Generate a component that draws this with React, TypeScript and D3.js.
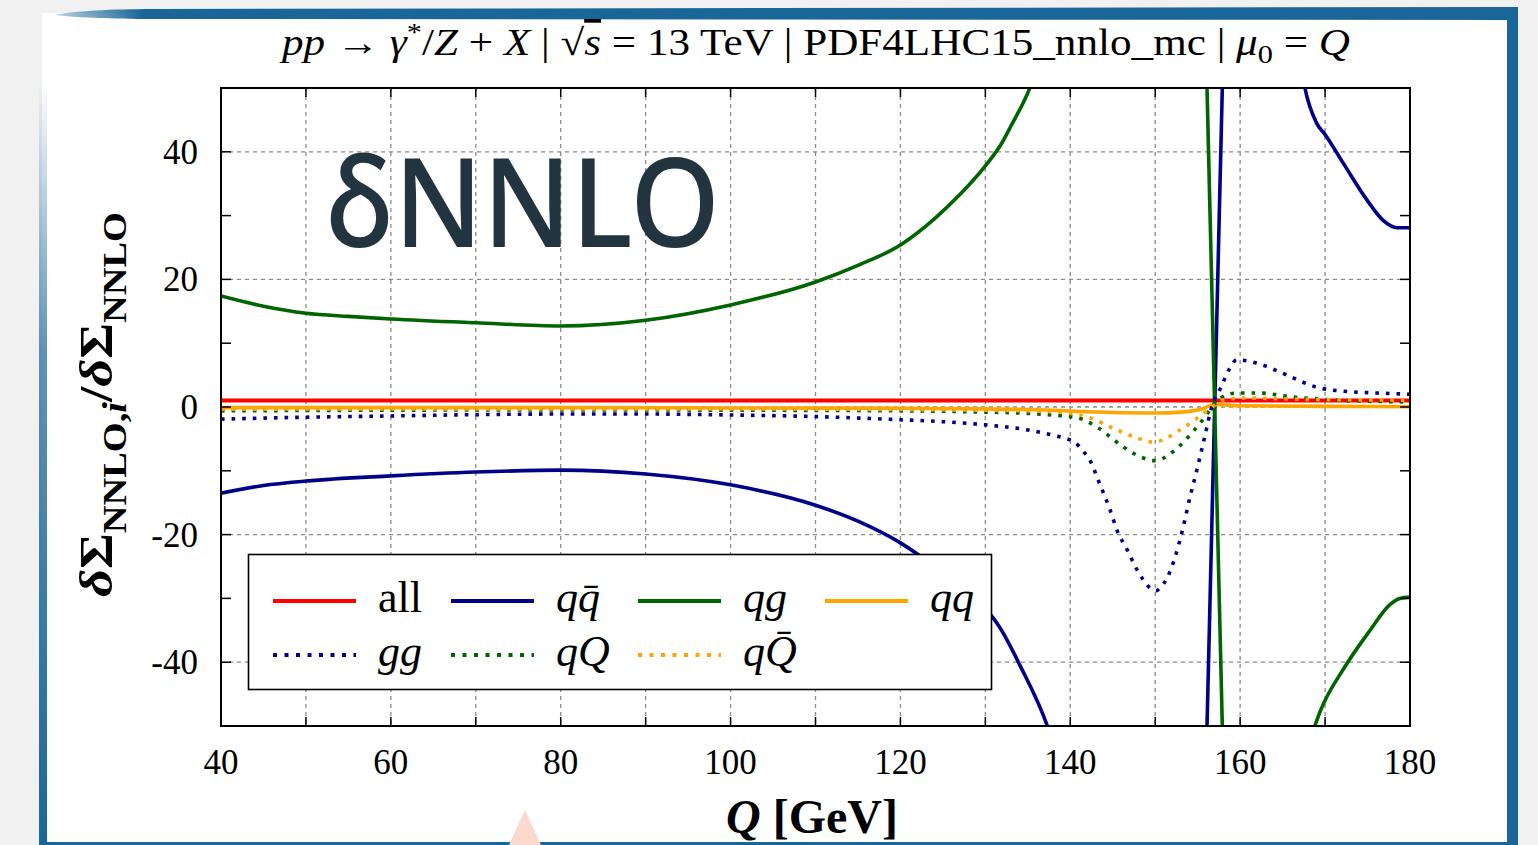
import React from "react";
import * as d3 from "d3";

// Q [GeV] vs ratio dSigma_NNLO,i / dSigma_NNLO
const xTicks = [40, 60, 80, 100, 120, 140, 160, 180];
const yTicks = [-40, -20, 0, 20, 40];

const allData: [number, number][] = [[40, 1], [180, 1]];

const qqbarData: [number, number][] = [
  [40, -13.5], [45, -12.3], [50, -11.6], [60, -10.8], [70, -10.2], [80, -9.9],
  [90, -10.5], [100, -12.2], [110, -15.4], [115, -17.9], [120, -21.3], [125, -26],
  [130, -31.5], [132, -35.2], [134, -40.3], [137.3, -50], [140, -62], [145, -85],
  [150, -105], [153, -115], [155, -110.5], [156, -55.5], [158, 55.5], [159, 111],
  [162, 95], [165, 68], [167, 55], [167.6, 50.2], [169, 44.5], [170, 42.7],
  [172.1, 38.3], [174.9, 32.5], [176.8, 29.3], [178.5, 28.1], [180, 28.1],
];

const qgData: [number, number][] = [
  [40, 17.4], [45, 15.8], [50, 14.7], [55, 14.2], [60, 13.8], [70, 13.2], [80, 12.7],
  [90, 13.6], [100, 16.0], [110, 19.6], [115, 22.2], [120, 25.4], [124, 29.5],
  [127, 33.3], [130, 37.8], [132, 41.5], [133, 44], [135.3, 50.2], [137, 57],
  [140, 70], [145, 90], [150, 105], [153, 115], [155, 110.5], [156, 55.5],
  [158, -55.5], [159, -111], [162, -95], [165, -70], [167, -58], [168.8, -50],
  [169.4, -47.8], [172.3, -40.8], [175.3, -35], [177.6, -31], [178.8, -30], [180, -29.8],
];

const qqData: [number, number][] = [
  [40, -0.1], [60, -0.1], [80, -0.1], [100, -0.15], [120, -0.2], [130, -0.3],
  [138, -0.5], [142, -0.75], [146, -0.9], [150, -0.95], [153, -0.8], [155.5, -0.3],
  [157, 0.4], [158.5, 0.3], [160, 0.2], [170, 0.1], [180, 0.05],
];

const ggData: [number, number][] = [
  [40, -1.9], [50, -1.6], [60, -1.4], [70, -1.2], [80, -1.1], [90, -1.1], [100, -1.25],
  [110, -1.5], [120, -2.0], [125, -2.3], [130, -2.8], [135, -3.6], [138.2, -4.5],
  [139.4, -4.9], [140.6, -5.6], [141.5, -6.9], [142.3, -8.3], [143.3, -11.5],
  [144.7, -16.2], [145.5, -19.3], [146.7, -22.4], [147.9, -25.6], [148.6, -27.1],
  [149.4, -28.4], [150.1, -28.8], [150.6, -28.3], [151.4, -26.8], [152.3, -23.7],
  [153.3, -18.8], [154.1, -14.1], [154.9, -9.9], [155.7, -5.4], [156.8, 0.6],
  [157.6, 2.7], [158.8, 6.1], [159.6, 7.4], [161.9, 6.9], [165, 5.3], [169, 3.1],
  [172.9, 2.4], [176, 2.2], [180, 2.0],
];

const qQData: [number, number][] = [
  [40, -0.6], [60, -0.5], [80, -0.45], [100, -0.5], [120, -0.6], [130, -0.8],
  [135, -1.0], [138.2, -1.3], [140.9, -1.7], [143.3, -3.3], [146.2, -6.2],
  [148.6, -8.0], [150, -8.4], [152.1, -7.0], [153.9, -4.7], [155.6, -2.0],
  [157.2, 0.8], [158.4, 1.9], [159.7, 2.2], [162.1, 2.2], [165.9, 1.6],
  [170.9, 1.1], [175, 0.9], [180, 0.8],
];

const qQbarData: [number, number][] = [
  [40, -0.35], [60, -0.3], [80, -0.3], [100, -0.3], [120, -0.4], [130, -0.5],
  [135, -0.6], [138.4, -0.8], [142.1, -1.6], [145.5, -3.6], [148.2, -5.0],
  [149.7, -5.5], [150.6, -5.3], [152.9, -3.6], [155, -1.7], [156.5, -0.2],
  [158, 1.1], [160.8, 1.4], [165.9, 1.25], [170, 1.15], [176.8, 1.1], [180, 1.05],
];

const RED = "#ff0000";
const BLUE = "#00008b";
const GREEN = "#006400";
const ORANGE = "#ffa500";
const FRAME = "#1b6699";

const series = [
  { key: "all", data: allData, color: RED, dotted: false },
  { key: "qqbar", data: qqbarData, color: BLUE, dotted: false },
  { key: "qg", data: qgData, color: GREEN, dotted: false },
  { key: "qq", data: qqData, color: ORANGE, dotted: false },
  { key: "gg", data: ggData, color: BLUE, dotted: true },
  { key: "qQ", data: qQData, color: GREEN, dotted: true },
  { key: "qQbar", data: qQbarData, color: ORANGE, dotted: true },
];

const serif = "'Liberation Serif', 'Times New Roman', serif";

const Chart = () => {
  const x = d3.scaleLinear().domain([40, 180]).range([221, 1410]);
  const y = d3.scaleLinear().domain([-50, 50]).range([726, 88]);

  const line = d3
    .line<[number, number]>()
    .x((d) => x(d[0]))
    .y((d) => y(d[1]))
    .curve(d3.curveMonotoneX);

  const xMinor = d3.range(40, 181, 10);
  const yMinor = d3.range(-50, 51, 10);
  const [x0, x1] = x.range();
  const [y0, y1] = y.range();

  const legendRows = [
    [
      { color: RED, dotted: false, label: <tspan>all</tspan> },
      { color: BLUE, dotted: false, label: <tspan fontStyle="italic">q{"q\u0304"}</tspan> },
      { color: GREEN, dotted: false, label: <tspan fontStyle="italic">qg</tspan> },
      { color: ORANGE, dotted: false, label: <tspan fontStyle="italic">qq</tspan> },
    ],
    [
      { color: BLUE, dotted: true, label: <tspan fontStyle="italic">gg</tspan> },
      { color: GREEN, dotted: true, label: <tspan fontStyle="italic">qQ</tspan> },
      { color: ORANGE, dotted: true, label: <tspan fontStyle="italic">q{"Q\u0304"}</tspan> },
    ],
  ];
  const legendColX = [273, 451, 638, 825];
  const legendRowY = [601, 655];

  return (
    <svg width={1538} height={845} style={{ position: "absolute", left: 0, top: 0 }}>
      <defs>
        <clipPath id="plotClip">
          <rect x={x0} y={y1} width={x1 - x0} height={y0 - y1} />
        </clipPath>
        <linearGradient id="leftGrad" x1="0" y1="0" x2="0" y2="1">
          <stop offset="0" stopColor={FRAME} stopOpacity={0} />
          <stop offset="0.35" stopColor={FRAME} stopOpacity={0.7} />
          <stop offset="1" stopColor={FRAME} stopOpacity={1} />
        </linearGradient>
        <linearGradient id="topGrad" x1="0" y1="0" x2="1" y2="0">
          <stop offset="0" stopColor={FRAME} stopOpacity={0.3} />
          <stop offset="0.06" stopColor={FRAME} stopOpacity={1} />
          <stop offset="1" stopColor={FRAME} stopOpacity={1} />
        </linearGradient>
      </defs>

      {/* slide frame */}
      <rect x={0} y={0} width={1538} height={845} fill="#f1f1f1" />
      <rect x={42} y={13} width={1470} height={832} fill="#ffffff" />
      <rect x={39} y={80} width={8} height={765} fill="url(#leftGrad)" />
      <path
        d="M55,15 C80,10 120,9 160,9 L1518,7 L1518,20 L160,19 C120,19 80,18 55,15 Z"
        fill="url(#topGrad)"
      />
      <rect x={1507} y={7} width={11} height={838} fill={FRAME} />
      <rect x={39} y={842} width={1479} height={3} fill={FRAME} />
      <polygon points="509,845 541,845 525,810" fill="#fcd9cf" />

      {/* grid */}
      <g stroke="#8a8a8a" strokeWidth={1.3} strokeDasharray="4,4">
        {xMinor.map((v) => (
          <line key={"gx" + v} x1={x(v)} x2={x(v)} y1={y1} y2={y0} />
        ))}
        {yTicks.map((v) => (
          <line key={"gy" + v} x1={x0} x2={x1} y1={y(v)} y2={y(v)} />
        ))}
      </g>

      {/* logo */}
      <text
        x={326}
        y={247}
        fontFamily="'Noto Sans', Lato, sans-serif"
        fontWeight={500}
        fontSize={124}
        fill="#22343f"
        textLength={394}
        lengthAdjust="spacingAndGlyphs"
      >
        δNNLO
      </text>

      {/* curves */}
      <g clipPath="url(#plotClip)" fill="none">
        {series.map((s) => (
          <path
            key={s.key}
            d={line(s.data) || ""}
            stroke={s.color}
            strokeWidth={s.key === "all" ? 4 : 3.6}
            strokeDasharray={s.dotted ? "3.6,7" : undefined}
          />
        ))}
      </g>

      {/* axes box and ticks */}
      <rect x={x0} y={y1} width={x1 - x0} height={y0 - y1} fill="none" stroke="#000" strokeWidth={2} />
      <g stroke="#000" strokeWidth={1.5}>
        {xMinor.map((v) => (
          <g key={"tx" + v}>
            <line x1={x(v)} x2={x(v)} y1={y0} y2={y0 - 9} />
            <line x1={x(v)} x2={x(v)} y1={y1} y2={y1 + 9} />
          </g>
        ))}
        {yMinor.map((v) => (
          <g key={"ty" + v}>
            <line x1={x0} x2={x0 + 10} y1={y(v)} y2={y(v)} />
            <line x1={x1} x2={x1 - 10} y1={y(v)} y2={y(v)} />
          </g>
        ))}
      </g>

      {/* tick labels */}
      <g fontFamily={serif} fontSize={35} fill="#000">
        {xTicks.map((v) => (
          <text key={"lx" + v} x={x(v)} y={774} textAnchor="middle">
            {v}
          </text>
        ))}
        {yTicks.map((v) => (
          <text key={"ly" + v} x={198} y={y(v) + 12} textAnchor="end">
            {v}
          </text>
        ))}
      </g>

      {/* legend */}
      <rect x={248.5} y={554.5} width={743} height={135} fill="#fff" stroke="#000" strokeWidth={1.6} />
      {legendRows.map((row, ri) =>
        row.map((item, ci) => (
          <g key={"lg" + ri + ci}>
            <line
              x1={legendColX[ci]}
              x2={legendColX[ci] + 83}
              y1={legendRowY[ri]}
              y2={legendRowY[ri]}
              stroke={item.color}
              strokeWidth={3.8}
              strokeDasharray={item.dotted ? "4,7.5" : undefined}
            />
            <text
              x={legendColX[ci] + 105}
              y={legendRowY[ri] + 11}
              fontFamily={serif}
              fontSize={44}
              fill="#000"
            >
              {item.label}
            </text>
          </g>
        ))
      )}

      {/* title */}
      <text
        x={282}
        y={55}
        fontFamily={serif}
        fontSize={37}
        fill="#000"
        textLength={1068}
        lengthAdjust="spacingAndGlyphs"
      >
        <tspan fontStyle="italic">pp</tspan>
        <tspan> → </tspan>
        <tspan fontStyle="italic">γ</tspan>
        <tspan fontSize={26} dy={-14}>*</tspan>
        <tspan dy={14}>/</tspan>
        <tspan fontStyle="italic">Z</tspan>
        <tspan> + </tspan>
        <tspan fontStyle="italic">X</tspan>
        <tspan> | √</tspan>
        <tspan fontStyle="italic" style={{ textDecoration: "overline" }}>s</tspan>
        <tspan> = 13 TeV | PDF4LHC15_nnlo_mc | </tspan>
        <tspan fontStyle="italic">μ</tspan>
        <tspan fontSize={26} dy={8}>0</tspan>
        <tspan dy={-8}> = </tspan>
        <tspan fontStyle="italic">Q</tspan>
      </text>

      {/* x axis title */}
      <text x={812} y={833} textAnchor="middle" fontFamily={serif} fontSize={48} fontWeight="bold" fill="#000">
        <tspan fontStyle="italic">Q</tspan>
        <tspan> [GeV]</tspan>
      </text>

      {/* y axis title */}
      <text
        transform="translate(112,597) rotate(-90)"
        fontFamily={serif}
        fontSize={47}
        fontWeight="bold"
        fill="#000"
        textLength={385}
        lengthAdjust="spacingAndGlyphs"
      >
        <tspan fontStyle="italic">δ</tspan>
        <tspan>Σ</tspan>
        <tspan fontSize={33} dy={14}>NNLO,</tspan>
        <tspan fontSize={33} fontStyle="italic">i</tspan>
        <tspan dy={-14}>/</tspan>
        <tspan fontStyle="italic">δ</tspan>
        <tspan>Σ</tspan>
        <tspan fontSize={33} dy={14}>NNLO</tspan>
      </text>
    </svg>
  );
};

export default function App() {
  return <Chart />;
}
